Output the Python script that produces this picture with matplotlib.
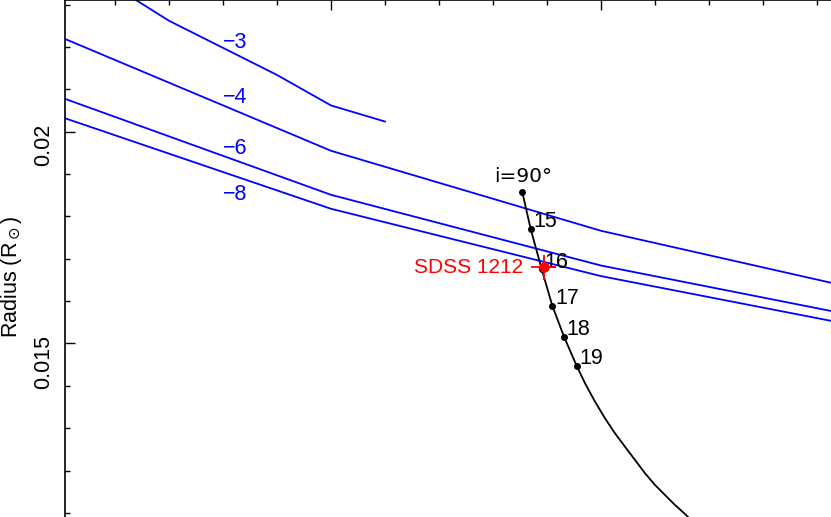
import numpy as np
import matplotlib.pyplot as plt
from matplotlib.ticker import MultipleLocator, NullFormatter

plt.rcParams['font.family'] = ['Liberation Sans', 'DejaVu Sans']
plt.rcParams['mathtext.fontset'] = 'dejavusans'

# cooling models, label = log of hydrogen layer mass
model_labels = ['\u22123', '\u22124', '\u22126', '\u22128']
m3_mass = [0.36, 0.37, 0.39, 0.40, 0.41]
m3_rad = [0.02342, 0.02262, 0.02134, 0.02062, 0.02024]
m4_mass = [0.35, 0.40, 0.45, 0.50]
m4_rad = [0.02223, 0.01955, 0.01766, 0.01622]
m6_mass = [0.35, 0.40, 0.45, 0.50]
m6_rad = [0.02081, 0.01851, 0.01684, 0.01558]
m8_mass = [0.35, 0.40, 0.45, 0.50]
m8_rad = [0.02035, 0.01818, 0.01659, 0.01535]
label_y = [0.02211, 0.02080, 0.01961, 0.01851]

# mass-radius constraint from the eclipse, marked by inclination
incl_labels = ['i=90\u00b0', '15', '16', '17', '18', '19']
curve_mass = [0.43543, 0.43698, 0.43902, 0.44098, 0.44315, 0.44550, 0.44704,
              0.44889, 0.45074, 0.45259, 0.45444, 0.45630, 0.45815, 0.46000,
              0.46185, 0.46370, 0.46556, 0.46741]
curve_rad = [0.018570, 0.017702, 0.016751, 0.015891, 0.015159, 0.014468, 0.014059,
             0.013625, 0.013233, 0.012878, 0.012562, 0.012248, 0.011934, 0.011658,
             0.011421, 0.011185, 0.010973, 0.010737]

# SDSS 1212 measurement
obj_mass, obj_mass_err = 0.4394, 0.0023
obj_rad, obj_rad_err = 0.0168, 0.0003

fig = plt.figure(figsize=(8.31, 5.17), dpi=100)
ax = fig.add_axes([65 / 831, 0, 766 / 831, 1])

blue = '#0000ff'
lw = 1.3
for xs, ys in [(m3_mass, m3_rad), (m4_mass, m4_rad), (m6_mass, m6_rad), (m8_mass, m8_rad)]:
    ax.plot(xs, ys, color=blue, lw=lw)
for lab, yy in zip(model_labels, label_y):
    ax.text(0.38, yy, lab, color=blue, fontsize=15.5, ha='left', va='center')

ax.plot(curve_mass, curve_rad, color='black', lw=lw)
ax.plot(curve_mass[:6], curve_rad[:6], 'o', color='black', ms=4, zorder=3)
ax.text(0.43556, 0.01895, incl_labels[0], fontsize=14.5, family='DejaVu Sans',
        ha='center', va='center')
for k in range(1, 6):
    ax.text(curve_mass[k] + 0.0005, curve_rad[k] + 0.00017, incl_labels[k],
            fontsize=15.5, ha='left', va='center')

ax.errorbar([obj_mass], [obj_rad], xerr=[obj_mass_err], yerr=[obj_rad_err],
            fmt='o', color='#ff0000', ms=6.5, elinewidth=1.3, capsize=0, zorder=4)
ax.text(0.43556, 0.016782, 'SDSS 1212', color='#ff0000', fontsize=15,
        ha='right', va='center')

ax.set_xlim(0.35074, 0.49259)
ax.set_ylim(0.010902, 0.023110)

ax.xaxis.set_major_locator(MultipleLocator(0.05))
ax.xaxis.set_minor_locator(MultipleLocator(0.01))
ax.yaxis.set_major_locator(MultipleLocator(0.005))
ax.yaxis.set_minor_locator(MultipleLocator(0.001))
ax.xaxis.set_major_formatter(NullFormatter())
ax.set_yticks([0.015, 0.02])
ax.set_yticklabels(['0.015', '0.02'])

ax.tick_params(which='both', direction='in', top=True, bottom=False,
               right=False, left=True, labelbottom=False, width=1.0)
ax.tick_params(which='major', length=7.5)
ax.tick_params(which='minor', length=3.8)
ax.tick_params(axis='y', labelrotation=90, labelsize=15.5, pad=8)

ax.spines['right'].set_visible(False)
ax.spines['bottom'].set_visible(False)
ax.spines['left'].set_linewidth(1.2)
ax.spines['top'].set_linewidth(1.2)

ax.set_ylabel(r'Radius (R$_\odot$)', fontsize=15.5)
ax.yaxis.set_label_coords(-0.053, 0.464)

fig.savefig('out.png', dpi=100)
